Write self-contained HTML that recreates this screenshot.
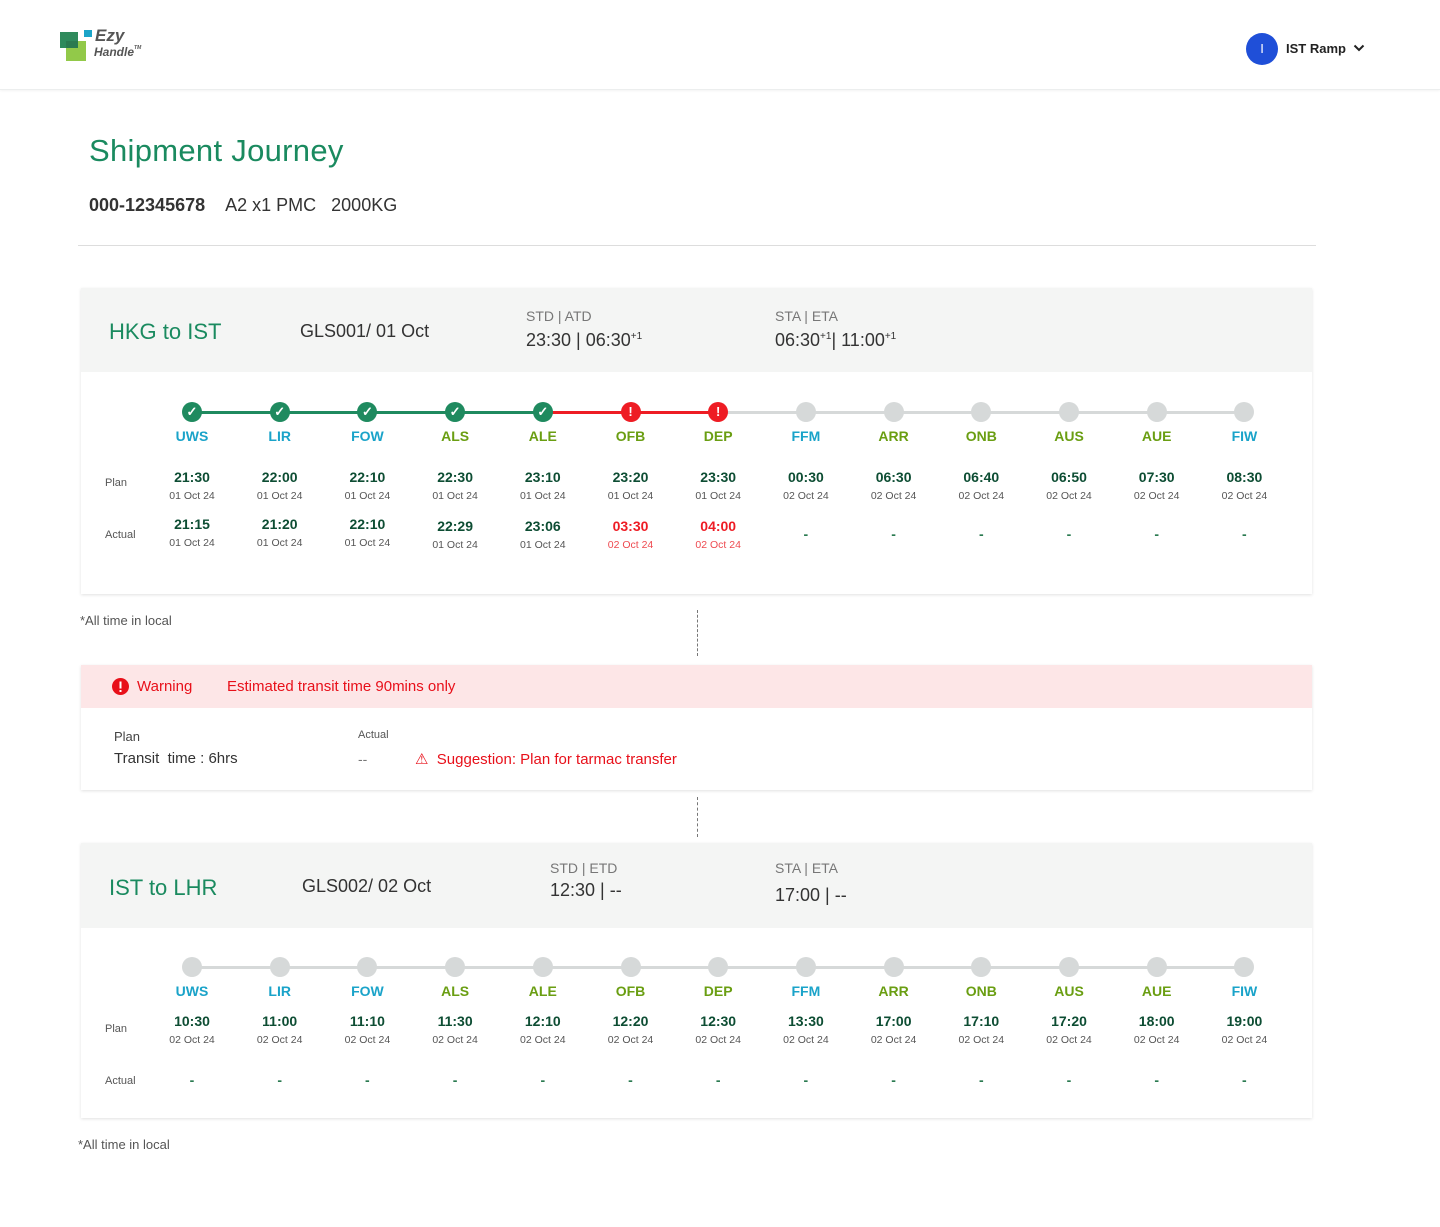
<!DOCTYPE html>
<html><head><meta charset="utf-8">
<style>
*{margin:0;padding:0;box-sizing:border-box}
body{width:1440px;height:1227px;background:#fff;font-family:"Liberation Sans",sans-serif;position:relative;overflow:hidden;color:#333}
.a{position:absolute}
.c{position:absolute;transform:translateX(-50%);white-space:nowrap;text-align:center}
.card{position:absolute;left:81px;width:1231px;background:#fff;box-shadow:0 1px 3px rgba(0,0,0,0.12)}
.chead{position:absolute;left:0;top:0;width:100%;background:#f4f5f4}
.lbl{font-size:11px;color:#555}
.tm{font-size:14px;font-weight:bold;color:#0d4d33}
.dt{font-size:10.5px;color:#555}
</style></head><body>
<div class="a" style="left:0;top:0;width:1440px;height:90px;border-bottom:1px solid #eceeee;box-shadow:0 1px 2px rgba(0,0,0,0.05)">
  <div class="a" style="left:58px;top:28px;width:100px;height:36px">
    <div class="a" style="left:2px;top:4px;width:18px;height:16px;background:#2f8a5c"></div>
    <div class="a" style="left:8px;top:13px;width:20px;height:20px;background:#8cc63f;opacity:.95"></div>
    <div class="a" style="left:8px;top:13px;width:12px;height:7px;background:#2b7a50"></div>
    <div class="a" style="left:26px;top:2px;width:8px;height:7px;background:#1ba4c8"></div>
    <div class="a" style="left:37px;top:-2px;font-size:17px;font-weight:bold;font-style:italic;color:#555">Ezy</div>
    <div class="a" style="left:36px;top:17px;font-size:12px;font-weight:bold;font-style:italic;color:#555">Handle<span style="font-size:5px;vertical-align:top">TM</span></div>
  </div>
  <div class="a" style="left:1246px;top:33px;width:32px;height:32px;border-radius:50%;background:#1f4fd8;color:#fff;font-size:13px;text-align:center;line-height:32px">I</div>
  <div class="a" style="left:1286px;top:41px;font-size:13px;font-weight:bold;color:#222">IST Ramp</div>
  <svg class="a" style="left:1353px;top:44px" width="12" height="9"><path d="M1.5 1.5L6 6l4.5-4.5" stroke="#222" stroke-width="2" fill="none"/></svg>
</div>

<div class="a" style="left:89px;top:133px;font-size:31px;color:#1a8a5f;letter-spacing:0.3px">Shipment Journey</div>
<div class="a" style="left:89px;top:195px;font-size:18px;color:#333;white-space:nowrap"><b style="color:#333">000-12345678</b>&nbsp;&nbsp;&nbsp;&nbsp;A2 x1 PMC&nbsp;&nbsp;&nbsp;2000KG</div>
<div class="a" style="left:78px;top:245px;width:1238px;height:1px;background:#ddd"></div>

<div class="card" id="card1" style="top:288px;height:306px">
  <div class="chead" style="height:84px">
    <div class="a" style="left:28px;top:31px;font-size:22px;color:#1a8a5f">HKG to IST</div>
    <div class="a" style="left:219px;top:33px;font-size:18px;color:#333">GLS001/ 01 Oct</div>
    <div class="a" style="left:445px;top:20px;font-size:14px;color:#777">STD | ATD</div>
    <div class="a" style="left:445px;top:42px;font-size:18px;color:#333;white-space:nowrap">23:30 | 06:30<sup style="font-size:10px">+1</sup></div>
    <div class="a" style="left:694px;top:20px;font-size:14px;color:#777">STA | ETA</div>
    <div class="a" style="left:694px;top:42px;font-size:18px;color:#333;white-space:nowrap">06:30<sup style="font-size:10px">+1</sup>| 11:00<sup style="font-size:10px">+1</sup></div>
  </div>
  <div class="a lbl" style="left:24px;top:189px">Plan</div>
  <div class="a lbl" style="left:24px;top:241px">Actual</div>
</div>
<div class="a" style="left:80px;top:613px;font-size:13px;color:#555">*All time in local</div>
<div class="a" style="left:697px;top:610px;height:46px;border-left:1.5px dashed #777"></div>

<div class="card" style="top:665px;height:125px">
  <div class="chead" style="height:43px;background:#fde6e7">
    <svg class="a" style="left:31px;top:13px" width="17" height="17"><circle cx="8.5" cy="8.5" r="8.5" fill="#e8101a"/><rect x="7.5" y="3.5" width="2" height="7" fill="#fff"/><rect x="7.5" y="12" width="2" height="2" fill="#fff"/></svg>
    <div class="a" style="left:56px;top:13px;font-size:15px;color:#e8101a">Warning</div>
    <div class="a" style="left:146px;top:13px;font-size:15px;color:#e8101a">Estimated transit time 90mins only</div>
  </div>
  <div class="a" style="left:33px;top:64px;font-size:13px;color:#444">Plan</div>
  <div class="a" style="left:33px;top:85px;font-size:15px;color:#333">Transit&nbsp; time : 6hrs</div>
  <div class="a" style="left:277px;top:64px;font-size:11px;color:#555">Actual</div>
  <div class="a" style="left:277px;top:86px;font-size:14px;color:#777">--</div>
  <div class="a" style="left:334px;top:85px;font-size:15px;color:#e8101a">⚠&nbsp; Suggestion: Plan for tarmac transfer</div>
</div>
<div class="a" style="left:697px;top:797px;height:40px;border-left:1.5px dashed #777"></div>

<div class="card" id="card2" style="top:843px;height:275px">
  <div class="chead" style="height:85px">
    <div class="a" style="left:28px;top:32px;font-size:22px;color:#1a8a5f">IST to LHR</div>
    <div class="a" style="left:221px;top:33px;font-size:18px;color:#333">GLS002/ 02 Oct</div>
    <div class="a" style="left:469px;top:17px;font-size:14px;color:#777">STD | ETD</div>
    <div class="a" style="left:469px;top:37px;font-size:18px;color:#333">12:30 | --</div>
    <div class="a" style="left:694px;top:17px;font-size:14px;color:#777">STA | ETA</div>
    <div class="a" style="left:694px;top:42px;font-size:18px;color:#333">17:00 | --</div>
  </div>
  <div class="a lbl" style="left:24px;top:180px">Plan</div>
  <div class="a lbl" style="left:24px;top:232px">Actual</div>
</div>
<div class="a" style="left:78px;top:1137px;font-size:13px;color:#555">*All time in local</div>

<script>
const stations=["UWS","LIR","FOW","ALS","ALE","OFB","DEP","FFM","ARR","ONB","AUS","AUE","FIW"];
const stationColor=["b","b","b","g","g","g","g","b","g","g","g","g","b"];
const status1=["ok","ok","ok","ok","ok","warn","warn","none","none","none","none","none","none"];
const plan1=["21:30","22:00","22:10","22:30","23:10","23:20","23:30","00:30","06:30","06:40","06:50","07:30","08:30"];
const planDate1=["01 Oct 24","01 Oct 24","01 Oct 24","01 Oct 24","01 Oct 24","01 Oct 24","01 Oct 24","02 Oct 24","02 Oct 24","02 Oct 24","02 Oct 24","02 Oct 24","02 Oct 24"];
const actual1=["21:15","21:20","22:10","22:29","23:06","03:30","04:00","-","-","-","-","-","-"];
const actualDate1=["01 Oct 24","01 Oct 24","01 Oct 24","01 Oct 24","01 Oct 24","02 Oct 24","02 Oct 24","","","","","",""];
const status2=["none","none","none","none","none","none","none","none","none","none","none","none","none"];
const plan2=["10:30","11:00","11:10","11:30","12:10","12:20","12:30","13:30","17:00","17:10","17:20","18:00","19:00"];
const planDate2=["02 Oct 24","02 Oct 24","02 Oct 24","02 Oct 24","02 Oct 24","02 Oct 24","02 Oct 24","02 Oct 24","02 Oct 24","02 Oct 24","02 Oct 24","02 Oct 24","02 Oct 24"];
const actual2=["-","-","-","-","-","-","-","-","-","-","-","-","-"];
const actualDate2=["","","","","","","","","","","","",""];

const X0=111, DX=87.7;
function xPos(i){return X0+i*DX;}
function add(parent,cls,txt,x,y,style){
  const d=document.createElement('div');
  d.className=cls;d.textContent=txt;
  d.style.left=x+'px';d.style.top=y+'px';
  if(style)d.style.cssText+=style;
  parent.appendChild(d);return d;
}
function build(card,status,plan,planDate,actual,actualDate,dotY,pY,aY){
  const n=stations.length;
  for(let i=0;i<n-1;i++){
    const seg=document.createElement('div');
    
    
    let col='#d6d9d9';
    if(status[i+1]==='ok')col='#1f8a5f';
    else if(status[i+1]==='warn')col='#ee1c24';
    seg.className='a';
    seg.style.cssText+=`left:${xPos(i)}px;top:${dotY-1.5}px;width:${DX}px;height:3px;background:${col}`;
    card.appendChild(seg);
  }
  for(let i=0;i<n;i++){
    const dot=document.createElement('div');
    
    
    dot.className='a';
    const st=status[i];
    const bg=st==='ok'?'#1f8a5f':st==='warn'?'#ee1c24':'#d6d9d9';
    dot.style.cssText+=`left:${xPos(i)-10}px;top:${dotY-10}px;width:20px;height:20px;border-radius:50%;background:${bg};color:#fff;text-align:center;font-weight:bold;font-size:13px;line-height:20px`;
    dot.textContent=st==='ok'?'✓':st==='warn'?'!':'';
    card.appendChild(dot);
    const l=add(card,'c',stations[i],xPos(i),dotY+16,`font-size:14px;font-weight:bold;color:${stationColor[i]==='b'?'#1aa3c9':'#6a9e12'}`);
    
    
    const p=add(card,'c tm',plan[i],xPos(i),pY+1);
    
    
    add(card,'c dt',planDate[i],xPos(i),pY+22);
    const late=status[i]==='warn';
    const dash=actual[i]==='-';
    const a=add(card,'c tm',actual[i],xPos(i),aY+(dash?10:(i>=3?2:0)),late?'color:#ee1c24':(dash?'color:#2a7a50':''));
    
    
    if(actualDate[i])add(card,'c dt',actualDate[i],xPos(i),aY+(i>=3?23:21),late?'color:#ee4a50':'');
  }
}
build(document.getElementById('card1'),status1,plan1,planDate1,actual1,actualDate1,124,180,228);
build(document.getElementById('card2'),status2,plan2,planDate2,actual2,actualDate2,124,169,219);
</script>
</body></html>
